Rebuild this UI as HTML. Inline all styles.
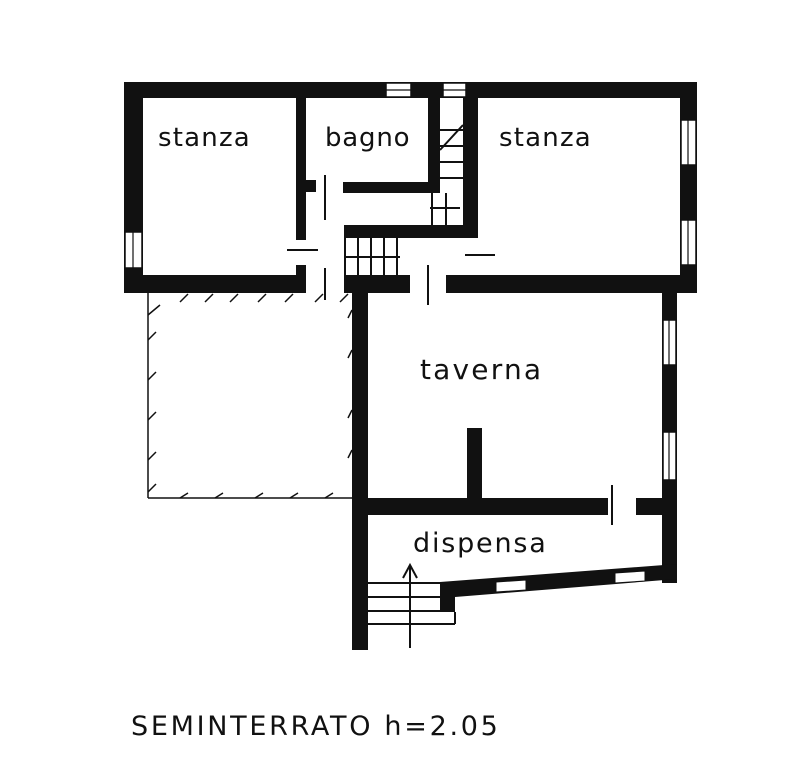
<!DOCTYPE html>
<html><head><meta charset="utf-8"><style>
html,body{margin:0;padding:0;background:#fff;width:800px;height:771px;overflow:hidden}
svg{display:block}
text{font-family:"DejaVu Sans","Liberation Sans",sans-serif;fill:#111}
</style></head><body>
<svg width="800" height="771" viewBox="0 0 800 771" xmlns="http://www.w3.org/2000/svg">
<g fill="#111">
<rect x="124" y="82" width="573" height="16"/>
<rect x="124" y="82" width="19" height="211"/>
<rect x="680" y="82" width="17" height="211"/>
<rect x="124" y="275" width="182" height="18"/>
<rect x="344" y="275" width="66" height="18"/>
<rect x="446" y="275" width="251" height="18"/>
<rect x="296" y="97" width="10" height="143"/>
<rect x="306" y="180" width="10" height="12"/>
<rect x="343" y="182" width="97" height="11"/>
<rect x="428" y="97" width="12" height="96"/>
<rect x="463" y="97" width="15" height="141"/>
<rect x="344" y="225" width="134" height="13"/>
<rect x="296" y="265" width="10" height="12"/>
<rect x="352" y="293" width="16" height="357"/>
<rect x="662" y="293" width="15" height="290"/>
<rect x="352" y="498" width="256" height="17"/>
<rect x="636" y="498" width="41" height="17"/>
<rect x="467" y="428" width="15" height="72"/>
<polygon points="440,582 677,564 677,579 455,597"/>
<rect x="440" y="582" width="15" height="30"/>
</g>
<g fill="#fff" stroke="#111" stroke-width="1.5">
<rect x="386" y="83" width="25" height="14"/>
<rect x="443" y="83" width="23" height="14"/>
<rect x="681" y="120" width="15" height="45"/>
<rect x="681" y="220" width="15" height="45"/>
<rect x="125" y="232" width="17" height="36"/>
<rect x="663" y="320" width="13" height="45"/>
<rect x="663" y="432" width="13" height="48"/>
</g>
<g stroke="#111" stroke-width="1.2">
<line x1="386" y1="90" x2="411" y2="90"/><line x1="443" y1="90" x2="466" y2="90"/>
<line x1="688" y1="120" x2="688" y2="165"/><line x1="688" y1="220" x2="688" y2="265"/>
<line x1="133" y1="232" x2="133" y2="268"/>
<line x1="669" y1="320" x2="669" y2="365"/><line x1="669" y1="432" x2="669" y2="480"/>
</g>
<polygon points="496,582 526,580 526,590 496,592" fill="#fff" stroke="#111" stroke-width="1"/>
<polygon points="615,573 645,571 645,581 615,583" fill="#fff" stroke="#111" stroke-width="1"/>
<g stroke="#111" stroke-width="2" fill="none">
<line x1="325" y1="175" x2="325" y2="220"/>
<line x1="287" y1="250" x2="318" y2="250"/>
<line x1="325" y1="268" x2="325" y2="300"/>
<line x1="428" y1="265" x2="428" y2="305"/>
<line x1="465" y1="255" x2="495" y2="255"/>
<line x1="612" y1="485" x2="612" y2="525"/>
<line x1="345" y1="238" x2="345" y2="275"/><line x1="358" y1="238" x2="358" y2="275"/>
<line x1="371" y1="238" x2="371" y2="275"/><line x1="384" y1="238" x2="384" y2="275"/>
<line x1="397" y1="238" x2="397" y2="275"/>
<line x1="345" y1="257" x2="400" y2="257"/>
<line x1="440" y1="130" x2="463" y2="130"/><line x1="440" y1="146" x2="463" y2="146"/>
<line x1="440" y1="162" x2="463" y2="162"/><line x1="440" y1="178" x2="463" y2="178"/>
<line x1="430" y1="208" x2="460" y2="208"/>
<line x1="432" y1="193" x2="432" y2="225"/><line x1="446" y1="193" x2="446" y2="225"/>
<line x1="463" y1="125" x2="440" y2="150"/>
<line x1="368" y1="583" x2="440" y2="583"/><line x1="368" y1="597" x2="440" y2="597"/>
<line x1="368" y1="611" x2="440" y2="611"/><line x1="368" y1="624" x2="455" y2="624"/>
<line x1="455" y1="612" x2="455" y2="624"/>
<line x1="410" y1="648" x2="410" y2="565"/>
<polyline points="403,578 410,565 417,578"/>
</g>
<g stroke="#111" stroke-width="1.5" fill="none">
<line x1="148" y1="293" x2="148" y2="498"/>
<line x1="148" y1="498" x2="352" y2="498"/>
<path d="M160 305l-12 10M148 340l8-8M148 380l8-8M148 420l8-8M148 460l8-8M148 492l8-8"/>
<path d="M180 302l8-8M205 302l8-8M230 302l8-8M258 302l8-8M285 302l8-8M315 302l8-8M340 302l8-8"/>
<path d="M180 498l8-5M215 498l8-5M255 498l8-5M290 498l8-5M325 498l8-5"/>
<path d="M352 310l-4 8M352 350l-4 8M352 410l-4 8M352 450l-4 8"/>
</g>
<text x="158" y="146" font-size="26" letter-spacing="1.2">stanza</text>
<text x="325" y="146" font-size="26" letter-spacing="0.8">bagno</text>
<text x="499" y="146" font-size="26" letter-spacing="1.2">stanza</text>
<text x="420" y="379" font-size="28" letter-spacing="2.2">taverna</text>
<text x="413" y="552" font-size="27" letter-spacing="1.8">dispensa</text>
<text x="131" y="735" font-size="27" letter-spacing="2.7">SEMINTERRATO h=2.05</text>
</svg>
</body></html>
